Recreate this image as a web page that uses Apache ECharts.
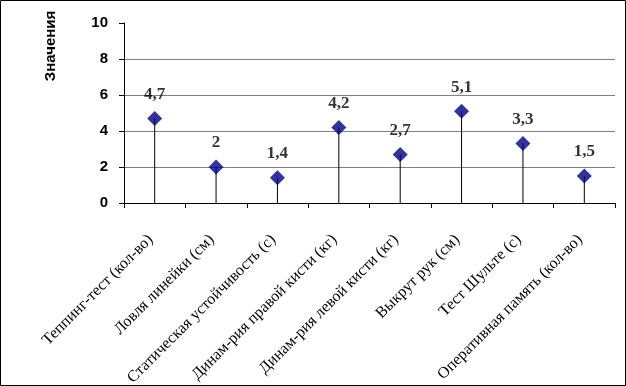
<!DOCTYPE html>
<html><head><meta charset="utf-8">
<script src="https://cdn.jsdelivr.net/npm/echarts@6/dist/echarts.min.js"></script>
<style>html,body{margin:0;padding:0;background:#fff}#c{width:626px;height:386px}</style>
</head><body><div id="c"></div>
<script>
const categories = ["Теппинг-тест (кол-во)", "Ловля линейки (см)", "Статическая устойчивость (с)", "Динам-рия правой кисти (кг)", "Динам-рия левой кисти (кг)", "Выкрут рук (см)", "Тест Шульте (с)", "Оперативная память (кол-во)"];
const values = [4.7, 2, 1.4, 4.2, 2.7, 5.1, 3.3, 1.5];
const yTicks = {min: 0, max: 10, interval: 2};
const axisTitle = "Значения";

const chart = echarts.init(document.getElementById('c'), null, {renderer: 'canvas'});
chart.setOption({
  animation: false,
  backgroundColor: '#fff',
  grid: {left: 124, right: 11, top: 23, bottom: 183, containLabel: false, outerBoundsMode: 'none'},
  graphic: [
    {type: 'rect', shape: {x: 0.5, y: 0.5, width: 625, height: 385}, style: {fill: 'none', stroke: '#000', lineWidth: 1}, z: 100},
    {type: 'text', x: 51, y: 46, rotation: Math.PI / 2, style: {text: axisTitle, font: 'bold 15px "Liberation Sans", Arial, sans-serif', fill: '#000', align: 'center', verticalAlign: 'middle'}}
  ],
  xAxis: {
    type: 'category', data: categories,
    axisLine: {lineStyle: {color: '#000', width: 1}},
    axisTick: {show: true, length: 5, lineStyle: {color: '#000'}},
    axisLabel: {rotate: 45, interval: 0, margin: 30, padding: [0, 6, 0, 0], color: '#000', fontFamily: '"Liberation Serif", "Times New Roman", serif', fontSize: 16}
  },
  yAxis: {
    type: 'value', min: yTicks.min, max: yTicks.max, interval: yTicks.interval,
    axisLine: {show: true, lineStyle: {color: '#000', width: 1}},
    axisTick: {show: true, length: 5, lineStyle: {color: '#000'}},
    axisLabel: {margin: 16, color: '#000', fontFamily: '"Liberation Sans", Arial, sans-serif', fontWeight: 'bold', fontSize: 15},
    splitLine: {show: true, lineStyle: {color: ['#808080', '#808080', '#808080', '#808080', '#808080', 'rgba(0,0,0,0)'], width: 1}}
  },
  series: [
    {type: 'bar', data: values, barWidth: 1, itemStyle: {color: '#000'}, silent: true, z: 2},
    {type: 'scatter', data: values, symbol: 'diamond', symbolSize: 15, itemStyle: {color: '#000080'}, z: 3,
     label: {show: true, position: 'top', distance: 8, color: '#000', fontFamily: '"Liberation Serif", "Times New Roman", serif', fontWeight: 'bold', fontSize: 17,
       formatter: p => String(p.value).replace('.', ',')}}
  ]
});
</script></body></html>
